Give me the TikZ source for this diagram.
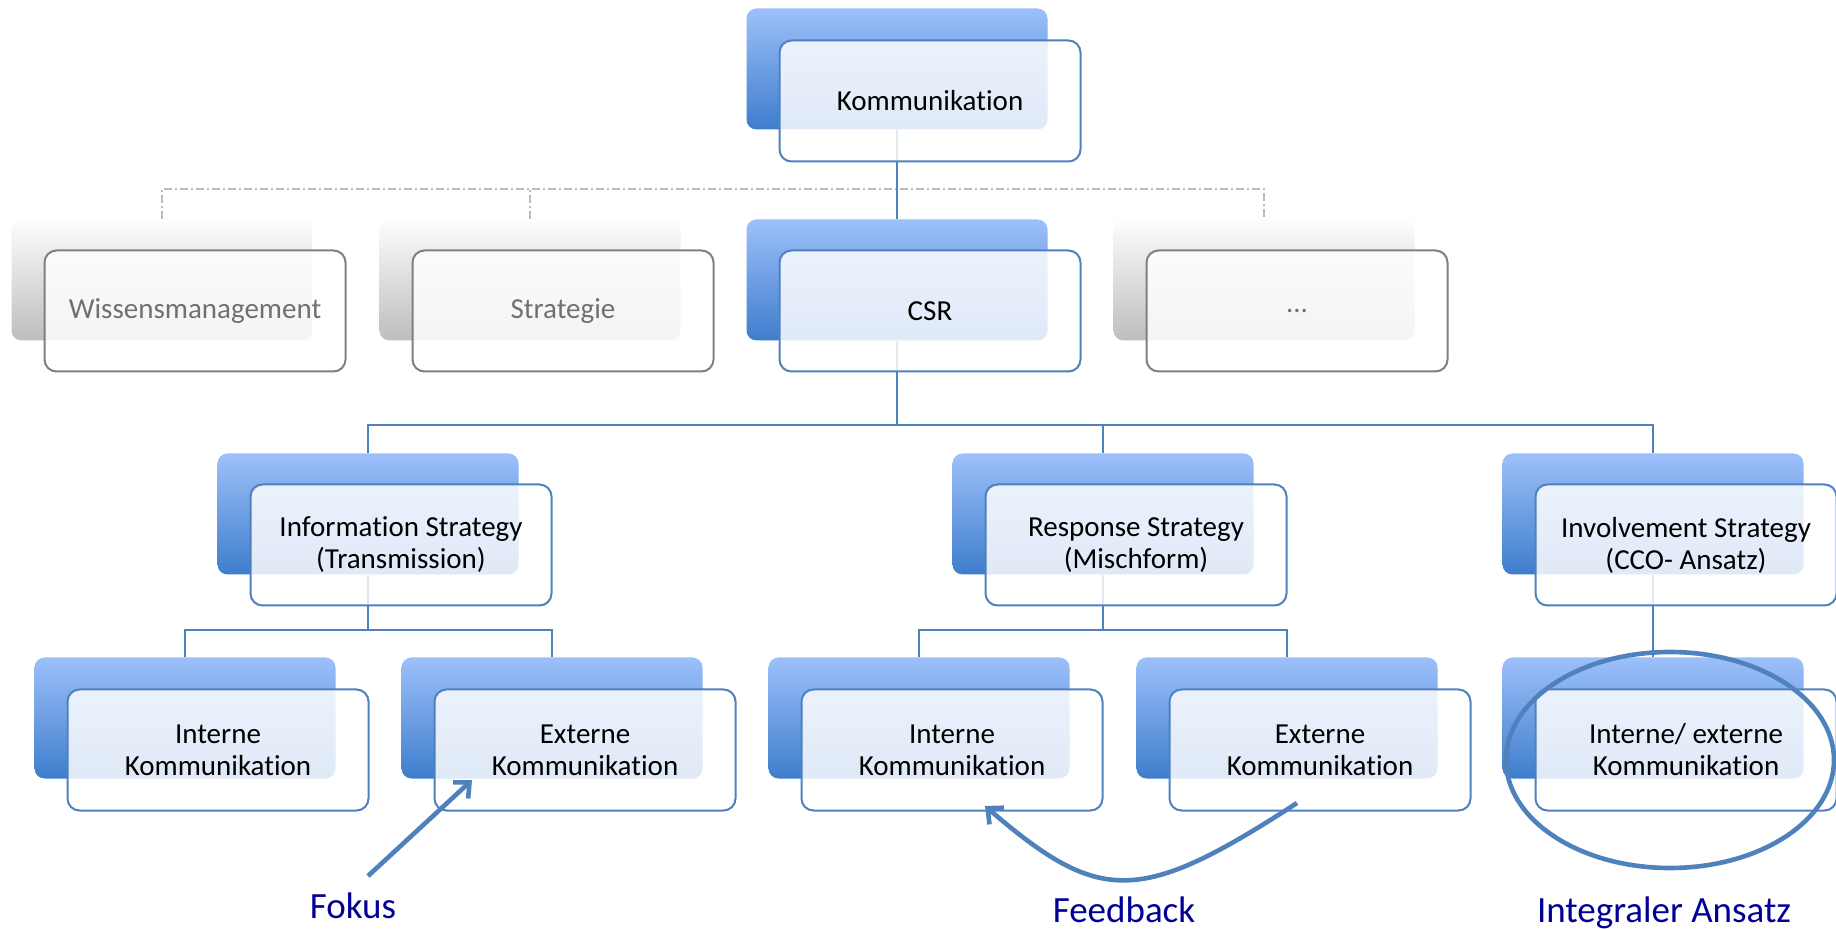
\documentclass[tikz,border=0pt]{standalone}
\usepackage{fontspec}
\setmainfont{Carlito}[Ligatures=NoCommon]
\usetikzlibrary{arrows.meta,shapes.geometric}
\definecolor{bTop}{RGB}{157,192,250}
\definecolor{bBot}{RGB}{62,125,205}
\definecolor{bLine}{RGB}{79,129,189}
\definecolor{gTop}{RGB}{253,253,253}
\definecolor{gBot}{RGB}{190,190,190}
\definecolor{gLine}{RGB}{128,128,128}
\definecolor{gText}{RGB}{112,112,112}
\definecolor{gConn}{RGB}{185,185,185}
\definecolor{navyText}{RGB}{0,0,150}
\begin{document}
\begin{tikzpicture}[x=0.5pt,y=-0.5pt,
  backbox/.style={rounded corners=5pt, minimum width=150.5pt, minimum height=60.5pt, inner sep=0pt, top color=bTop, bottom color=bBot, draw=none},
  greyback/.style={backbox, top color=gTop, bottom color=gBot},
  frontbox/.style={rounded corners=6pt, minimum width=150.5pt, minimum height=60.5pt, inner sep=2pt, draw=bLine, line width=1pt, fill=white, fill opacity=0.84, text opacity=1, align=center, font=\fontsize{14.5}{16}\selectfont},
  greyfront/.style={frontbox, draw=gLine, text=gText},
  conn/.style={draw=bLine, line width=1pt},
  gconn/.style={draw=gConn, line width=0.8pt, dash pattern=on 4pt off 1.5pt on 1pt off 1.5pt},
  annot/.style={draw=bLine, line width=2.3pt},
  lbl/.style={anchor=base, text=navyText, font=\fontsize{18.5}{22}\selectfont},
  tip/.style={-{Straight Barb[length=6pt,width=11pt]}}
]
\useasboundingbox (0,0) rectangle (1836,929);
\fill[white] (0,0) rectangle (1836,929);

% helper heights of the connector bars
\coordinate (h1) at (0,189);
\coordinate (h2) at (0,425);
\coordinate (h3) at (0,630);

% back boxes
\node[greyback] (wb) at (162,280) {};
\node[greyback] (sb) at (530,280) {};
\node[greyback] (db) at (1264,280) {};
\node[backbox] (kb) at (897,69) {};
\node[backbox] (cb) at (897,280) {};
\node[backbox] (ib) at (368,514) {};
\node[backbox] (rb) at (1103,514) {};
\node[backbox] (vb) at (1653,514) {};
\node[backbox] (i1b) at (185,718) {};
\node[backbox] (e1b) at (552,718) {};
\node[backbox] (i2b) at (919,718) {};
\node[backbox] (e2b) at (1287,718) {};
\node[backbox] (iexb) at (1653,718) {};

% connectors
\draw[gconn] (wb.north) -- (wb.north |- h1) -- (db.north |- h1) -- (db.north);
\draw[gconn] (sb.north) -- (sb.north |- h1);
\draw[conn] (kb.south) -- (cb.north);
\draw[conn] (cb.south) -- (cb.south |- h2);
\draw[conn] (ib.north) -- (ib.north |- h2) -- (vb.north |- h2) -- (vb.north);
\draw[conn] (rb.north) -- (rb.north |- h2);
\draw[conn] (ib.south) -- (ib.south |- h3);
\draw[conn] (i1b.north) -- (i1b.north |- h3) -- (e1b.north |- h3) -- (e1b.north);
\draw[conn] (rb.south) -- (rb.south |- h3);
\draw[conn] (i2b.north) -- (i2b.north |- h3) -- (e2b.north |- h3) -- (e2b.north);
\draw[conn] (vb.south) -- (iexb.north);

% front boxes
\node[frontbox] (k) at (930,101) {Kommunikation};
\node[greyfront] (w) at (195,311) {Wissensmanagement};
\node[greyfront] (s) at (563,311) {Strategie};
\node[frontbox] (c) at (930,311) {CSR};
\node[greyfront] (d) at (1297,311) {...};
\node[frontbox] (i) at (401,545) {Information Strategy\\(Transmission)};
\node[frontbox] (r) at (1136,545) {Response Strategy\\(Mischform)};
\node[frontbox] (v) at (1686,545) {Involvement Strategy\\(CCO- Ansatz)};
\node[frontbox] (i1) at (218,750) {Interne\\Kommunikation};
\node[frontbox] (e1) at (585,750) {Externe\\Kommunikation};
\node[frontbox] (i2) at (952,750) {Interne\\Kommunikation};
\node[frontbox] (e2) at (1320,750) {Externe\\Kommunikation};
\node[frontbox] (iex) at (1686,750) {Interne/ externe\\Kommunikation};

% annotations
\node[ellipse, draw=bLine, line width=2.3pt, minimum width=164pt, minimum height=108pt, inner sep=0pt] (ring) at (1670,760) {};
\coordinate (fokA) at (368,876);
\coordinate (fokB) at (472,780);
\draw[annot, tip] (fokA) -- (fokB);
\coordinate (fbA) at (1297,803);
\coordinate (fbB) at (985,806);
\draw[annot, tip] (fbA) .. controls (1140,905) and (1100,905) .. (fbB);

\node[lbl] (fokus) at (353,918) {Fokus};
\node[lbl] (feedback) at (1124,922) {Feedback};
\node[lbl] (integral) at (1664,922) {Integraler Ansatz};
\end{tikzpicture}
\end{document}
